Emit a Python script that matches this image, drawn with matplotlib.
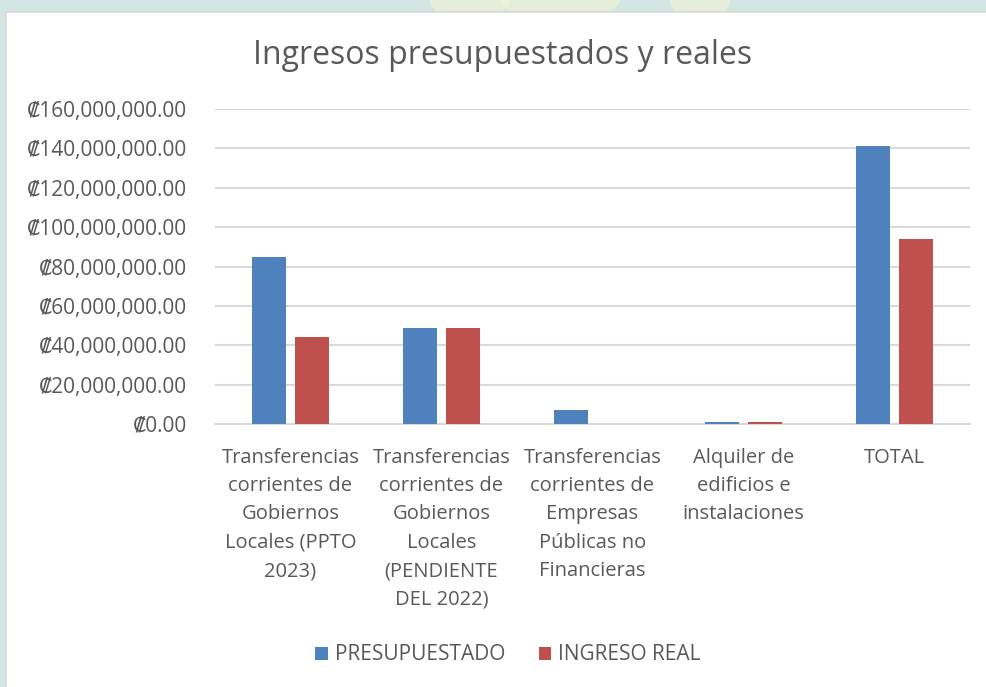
import numpy as np
import matplotlib
matplotlib.use("Agg")
import matplotlib.pyplot as plt
from matplotlib.patches import Rectangle, Ellipse

plt.rcParams['font.family'] = ['Open Sans', 'DejaVu Sans']

# Datos
categorias = [
    "Transferencias\ncorrientes de\nGobiernos\nLocales (PPTO\n2023)",
    "Transferencias\ncorrientes de\nGobiernos\nLocales\n(PENDIENTE\nDEL 2022)",
    "Transferencias\ncorrientes de\nEmpresas\nPúblicas no\nFinancieras",
    "Alquiler de\nedificios e\ninstalaciones",
    "TOTAL",
]
presupuestado = [84_700_000, 48_800_000, 6_900_000, 1_000_000, 141_400_000]
ingreso_real = [44_000_000, 48_800_000, 0, 1_000_000, 93_800_000]
series = ["PRESUPUESTADO", "INGRESO REAL"]

azul = "#4f81bd"
rojo = "#c0504d"
gris = "#595959"

fig = plt.figure(figsize=(9.87, 6.87), dpi=100)
fig.patch.set_facecolor("#d3e6e4")

# marca de agua tenue en la franja superior
for cx, w in [(470, 80), (560, 120), (700, 60)]:
    fig.add_artist(Ellipse((cx / 987, 1.0), w / 987, 40 / 687,
                           transform=fig.transFigure, facecolor="#f4f3d6",
                           edgecolor="none", alpha=0.6, zorder=-20))

# fondo blanco del grafico
fondo = Rectangle((6 / 987, -0.01), 1.0, 1 - 12 / 687 + 0.01,
                  transform=fig.transFigure, facecolor="white",
                  edgecolor="#d9d9d9", linewidth=1.2, zorder=-10)
fig.add_artist(fondo)

ax = fig.add_axes([215 / 987, 1 - 424 / 687, 755 / 987, 315 / 687])
ax.set_facecolor("none")

x = np.arange(len(categorias))
ancho = 0.225
ax.bar(x - 0.145, presupuestado, ancho, color=azul, label=series[0], zorder=3)
ax.bar(x + 0.145, ingreso_real, ancho, color=rojo, label=series[1], zorder=3)

ax.set_xlim(-0.5, len(categorias) - 0.5)
ax.set_ylim(0, 160_000_000)
yt = np.arange(0, 160_000_001, 20_000_000)
ax.set_yticks(yt)
ax.set_yticklabels([f"₡{v:,.2f}" for v in yt])
ax.yaxis.grid(True, color="#d9d9d9", linewidth=1.5, zorder=0)
ax.set_axisbelow(True)

ax.set_xticks(x)
ax.set_xticklabels(categorias)
for t in ax.get_xticklabels():
    t.set_linespacing(1.56)
    t.set_verticalalignment("top")

ax.tick_params(axis="y", length=0, pad=20, labelsize=15, labelcolor=gris)
ax.tick_params(axis="x", length=0, pad=17, labelsize=14.5, labelcolor=gris)

for s in ["top", "right", "left"]:
    ax.spines[s].set_visible(False)
ax.spines["bottom"].set_color("#d9d9d9")
ax.spines["bottom"].set_linewidth(1.5)

fig.text(503 / 987, 1 - 55 / 687, "Ingresos presupuestados y reales",
         ha="center", va="center", fontsize=23, color=gris)

fig.legend(loc="center", bbox_to_anchor=(508 / 987, 1 - 655 / 687), ncol=2,
           frameon=False, fontsize=15, labelcolor=gris, handlelength=0.6,
           handleheight=0.6, handletextpad=0.35, columnspacing=1.6)

fig.savefig("out.png", dpi=100, facecolor=fig.get_facecolor())
